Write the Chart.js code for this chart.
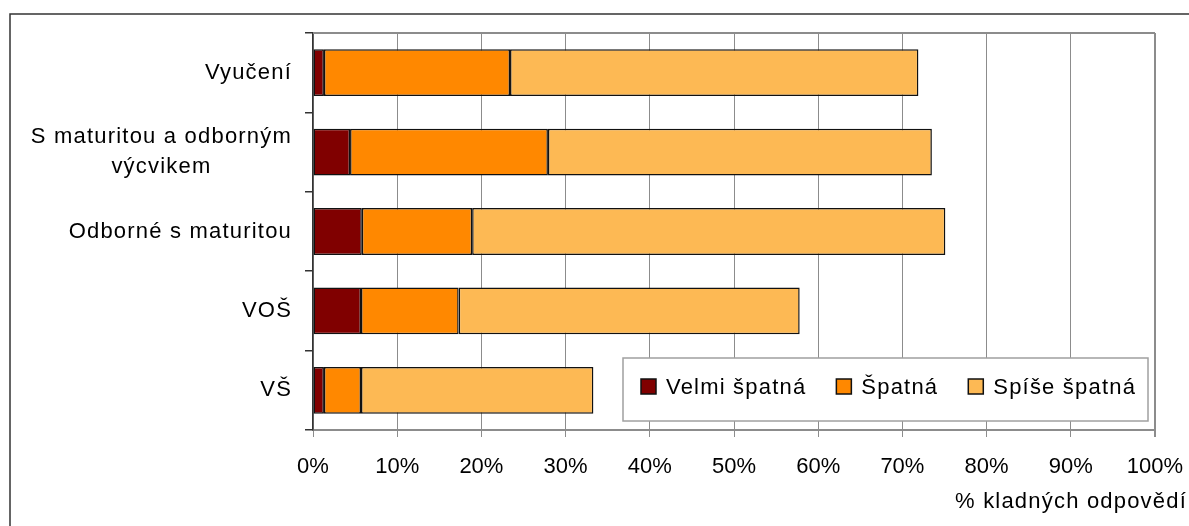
<!doctype html>
<html lang="cs">
  <head>
    <meta charset="utf-8">
    <title>% kladných odpovědí</title>
    <style>
      * {
        margin: 0;
        padding: 0;
      }
      body {
        background: white;
      }
      .chartBox {
        width: 1189px;
        height: 526px;
        position: relative;
      }
    </style>
  </head>
  <body>
    <div class="chartBox">
      <canvas id="myChart"></canvas>
    </div>
    <script src="https://cdn.jsdelivr.net/npm/chart.js"></script>
    <script>
    // data
    const categories = ['Vyučení', ['S maturitou a odborným', 'výcvikem'], 'Odborné s maturitou', 'VOŠ', 'VŠ'];
    const velmiSpatna = [1.3, 4.4, 5.8, 5.7, 1.3];
    const spatna = [22.1, 23.5, 13.1, 11.6, 4.4];
    const spiseSpatna = [48.5, 45.6, 56.2, 40.5, 27.6];
    const xTicks = [0, 10, 20, 30, 40, 50, 60, 70, 80, 90, 100];
    const axisTitle = '% kladných odpovědí';

    const FONT = '"Liberation Sans", Arial, sans-serif';

    // frame, labels on the left, legend box and axis title
    const decoPlugin = {
      id: 'deco',
      beforeDraw(chart) {
        const ctx = chart.ctx;
        ctx.save();
        ctx.strokeStyle = '#333';
        ctx.lineWidth = 1.5;
        ctx.beginPath();
        ctx.moveTo(10, chart.height);
        ctx.lineTo(10, 14);
        ctx.lineTo(chart.width, 14);
        ctx.stroke();
        ctx.restore();
      },
      afterDraw(chart) {
        const ctx = chart.ctx;
        const area = chart.chartArea;
        const yScale = chart.scales.y;
        ctx.save();

        // top border of plot
        ctx.strokeStyle = '#8c8c8c';
        ctx.lineWidth = 2;
        ctx.beginPath();
        ctx.moveTo(area.left, area.top);
        ctx.lineTo(area.right, area.top);
        ctx.stroke();

        ctx.font = '22px ' + FONT;
        ctx.letterSpacing = '1.2px';
        ctx.fillStyle = '#000';
        ctx.textBaseline = 'middle';

        // category labels
        const rightEdge = 292;
        categories.forEach((lab, i) => {
          const y = yScale.getPixelForValue(i);
          const lines = Array.isArray(lab) ? lab : [lab];
          const widths = lines.map(l => ctx.measureText(l).width);
          const maxW = Math.max(...widths);
          const lh = 30;
          const y0 = y - (lines.length - 1) * lh / 2;
          ctx.textAlign = 'center';
          lines.forEach((l, j) => {
            ctx.fillText(l, rightEdge - maxW / 2, y0 + j * lh);
          });
        });

        // legend
        const lx = 623, ly = 358, lw = 525, lhBox = 63;
        ctx.fillStyle = '#fff';
        ctx.fillRect(lx, ly, lw, lhBox);
        ctx.strokeStyle = '#a0a0a0';
        ctx.lineWidth = 1.5;
        ctx.strokeRect(lx, ly, lw, lhBox);
        let x = 641;
        ctx.textAlign = 'left';
        ctx.textBaseline = 'alphabetic';
        chart.data.datasets.forEach(ds => {
          ctx.fillStyle = ds.backgroundColor;
          ctx.fillRect(x, 379, 15, 15);
          ctx.strokeStyle = '#111';
          ctx.lineWidth = 1.5;
          ctx.strokeRect(x, 379, 15, 15);
          ctx.fillStyle = '#000';
          ctx.fillText(ds.label, x + 25, 394);
          x += 25 + ctx.measureText(ds.label).width + 30;
        });

        // axis title
        ctx.textAlign = 'right';
        ctx.fillText(axisTitle, 1187, 508);

        ctx.letterSpacing = '0px';
        ctx.restore();
      }
    };

    const data = {
      labels: categories,
      datasets: [{
        label: 'Velmi špatná',
        data: velmiSpatna,
        backgroundColor: '#800000'
      }, {
        label: 'Špatná',
        data: spatna,
        backgroundColor: '#ff8800'
      }, {
        label: 'Spíše špatná',
        data: spiseSpatna,
        backgroundColor: '#fdb954'
      }]
    };

    const config = {
      type: 'bar',
      data,
      plugins: [decoPlugin],
      options: {
        indexAxis: 'y',
        responsive: true,
        maintainAspectRatio: false,
        animation: false,
        layout: {
          padding: { top: 33, right: 34, left: 0, bottom: 0 }
        },
        datasets: {
          bar: {
            borderColor: '#111',
            borderWidth: 1.5,
            borderSkipped: false,
            categoryPercentage: 1,
            barPercentage: 0.59
          }
        },
        plugins: {
          legend: { display: false },
          tooltip: { enabled: false }
        },
        scales: {
          x: {
            stacked: true,
            min: 0,
            max: 100,
            afterBuildTicks: scale => {
              scale.ticks = xTicks.map(v => ({ value: v }));
            },
            afterFit: scale => {
              scale.height = 96;
              scale.paddingLeft = 0;
              scale.paddingRight = 0;
            },
            grid: {
              color: '#8c8c8c',
              lineWidth: ctx => (ctx.tick && ctx.tick.value === 100 ? 2 : 1),
              tickLength: 7
            },
            border: { color: '#8c8c8c', width: 2 },
            ticks: {
              color: '#000',
              padding: 17,
              maxRotation: 0,
              font: { family: FONT, size: 22 },
              callback: v => v + '%'
            }
          },
          y: {
            stacked: true,
            afterFit: scale => { scale.width = 313; },
            grid: {
              offset: true,
              drawOnChartArea: false,
              color: '#333',
              tickLength: 8,
              lineWidth: 1.5
            },
            border: { color: '#333', width: 1.5 },
            ticks: { display: false }
          }
        }
      }
    };

    const myChart = new Chart(
      document.getElementById('myChart'),
      config
    );
    </script>
  </body>
</html>
